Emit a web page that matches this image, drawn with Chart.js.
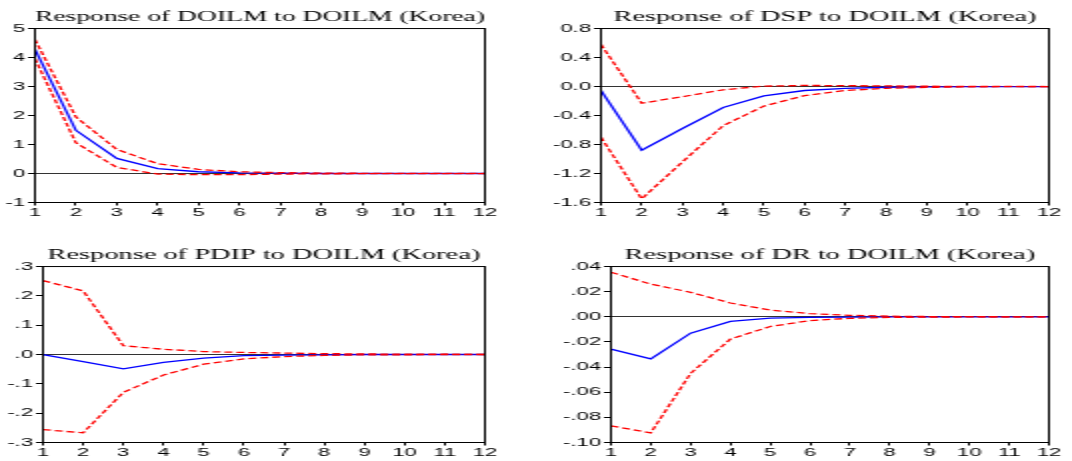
<!DOCTYPE html>
<html>
<head>
<meta charset="utf-8">
<script src="https://cdn.jsdelivr.net/npm/chart.js@4.4.1/dist/chart.umd.min.js"></script>
<style>
  body { margin: 0; background: #fff; }
  #wrap { position: relative; width: 1072px; height: 461px; overflow: hidden; background: #fff; }
  canvas { position: absolute; }
</style>
</head>
<body>
<div id="wrap">
  <canvas id="c1" width="268" height="228" style="left:0px;top:0px;width:536px;height:228px"></canvas>
  <canvas id="c2" width="268" height="228" style="left:536px;top:0px;width:536px;height:228px"></canvas>
  <canvas id="c3" width="268" height="223" style="left:0px;top:238px;width:536px;height:223px"></canvas>
  <canvas id="c4" width="268" height="223" style="left:536px;top:238px;width:536px;height:223px"></canvas>
</div>
<script>
// periods 1..12
const periods = ["1", "2", "3", "4", "5", "6", "7", "8", "9", "10", "11", "12"];

// Response of DOILM to DOILM
const resp1 = [4.28, 1.49, 0.52, 0.17, 0.06, 0.02, 0.01, 0.0, 0.0, 0.0, 0.0, 0.0];
const upper1 = [4.62, 1.95, 0.83, 0.34, 0.14, 0.06, 0.03, 0.015, 0.007, 0.003, 0.002, 0.001];
const lower1 = [3.96, 1.06, 0.21, -0.02, -0.04, -0.04, -0.02, -0.01, -0.006, -0.003, -0.002, -0.001];
const yTicks1 = [-1, 0, 1, 2, 3, 4, 5];
const yLabels1 = ["-1", "0", "1", "2", "3", "4", "5"];

// Response of DSP to DOILM
const resp2 = [-0.055, -0.88, -0.58, -0.29, -0.13, -0.055, -0.025, -0.01, -0.005, -0.002, -0.001, 0];
const upper2 = [0.58, -0.23, -0.14, -0.045, 0.005, 0.015, 0.012, 0.008, 0.004, 0.002, 0.001, 0];
const lower2 = [-0.70, -1.55, -1.04, -0.54, -0.27, -0.125, -0.055, -0.025, -0.012, -0.005, -0.002, -0.001];
const yTicks2 = [-1.6, -1.2, -0.8, -0.4, 0, 0.4, 0.8];
const yLabels2 = ["-1.6", "-1.2", "-0.8", "-0.4", "0.0", "0.4", "0.8"];

// Response of PDIP to DOILM
const resp3 = [0.0, -0.024, -0.049, -0.027, -0.012, -0.004, -0.002, -0.001, 0, 0, 0, 0];
const upper3 = [0.252, 0.217, 0.03, 0.018, 0.01, 0.007, 0.005, 0.003, 0.002, 0.001, 0.001, 0];
const lower3 = [-0.256, -0.267, -0.129, -0.07, -0.033, -0.015, -0.007, -0.003, -0.001, -0.001, 0, 0];
const yTicks3 = [-0.3, -0.2, -0.1, 0, 0.1, 0.2, 0.3];
const yLabels3 = ["-.3", "-.2", "-.1", ".0", ".1", ".2", ".3"];

// Response of DR to DOILM
const resp4 = [-0.0257, -0.0335, -0.013, -0.0037, -0.001, -0.0005, -0.0002, -0.0001, 0, 0, 0, 0];
const upper4 = [0.0355, 0.026, 0.0195, 0.011, 0.0054, 0.0025, 0.0012, 0.0005, 0.0002, 0.0001, 0, 0];
const lower4 = [-0.0867, -0.0923, -0.045, -0.0177, -0.0077, -0.003, -0.0012, -0.0005, -0.0002, -0.0001, 0, 0];
const yTicks4 = [-0.10, -0.08, -0.06, -0.04, -0.02, 0, 0.02, 0.04];
const yLabels4 = ["-.10", "-.08", "-.06", "-.04", "-.02", ".00", ".02", ".04"];

// box round the plot area
const frame = {
  id: "frame",
  afterDraw(chart) {
    const { ctx, chartArea } = chart;
    ctx.save();
    ctx.strokeStyle = "#000";
    ctx.lineWidth = 1;
    ctx.strokeRect(chartArea.left, chartArea.top, chartArea.right - chartArea.left, chartArea.bottom - chartArea.top);
    ctx.restore();
  },
};

const tickFont = { family: "Liberation Sans", size: 11 };

function irfChart(id, title, resp, upper, lower, yTicks, yLabels, box) {
  new Chart(document.getElementById(id), {
    type: "line",
    data: {
      labels: periods,
      datasets: [
        { data: upper, borderColor: "#ff0000", borderDash: [4, 2], borderWidth: 1.3 },
        { data: lower, borderColor: "#ff0000", borderDash: [4, 2], borderWidth: 1.3 },
        { data: resp, borderColor: "#0000ff", borderWidth: 1.3 },
      ],
    },
    options: {
      responsive: false,
      animation: false,
      devicePixelRatio: 1,
      layout: { padding: { left: 0, right: box.right, top: 0, bottom: 0 } },
      elements: { point: { radius: 0 }, line: { tension: 0 } },
      plugins: {
        legend: { display: false },
        tooltip: { enabled: false },
        title: {
          display: true,
          text: title,
          fullSize: false,
          color: "#000",
          font: { family: "Liberation Serif", size: 14.2, weight: "normal" },
          padding: { top: box.titleTop, bottom: 3 },
        },
      },
      scales: {
        x: {
          grid: { drawOnChartArea: false, tickLength: 3, color: "#000", tickColor: "#000" },
          border: { color: "#000", width: 1 },
          ticks: { color: "#000", padding: 1, maxRotation: 0, autoSkip: false, font: tickFont },
          afterFit: (s) => { s.height = box.bottom; },
        },
        y: {
          min: yTicks[0],
          max: yTicks[yTicks.length - 1],
          afterBuildTicks: (s) => { s.ticks = yTicks.map((v) => ({ value: v })); },
          grid: {
            color: (c) => (c.tick && Math.abs(c.tick.value) < 1e-9 ? "#333" : "rgba(0,0,0,0)"),
            tickColor: "#000",
            tickLength: 3.5,
          },
          border: { color: "#000", width: 1 },
          ticks: { color: "#000", padding: 1.5, font: tickFont, callback: (v, i) => yLabels[i] },
          afterFit: (s) => { s.width = box.left; },
        },
      },
    },
    plugins: [frame],
  });
}

irfChart("c1", "Response of DOILM to DOILM (Korea)", resp1, upper1, lower1, yTicks1, yLabels1,
  { left: 17.5, right: 25.5, bottom: 25.5, titleTop: 8.5 });
irfChart("c2", "Response of DSP to DOILM (Korea)", resp2, upper2, lower2, yTicks2, yLabels2,
  { left: 32.5, right: 11.5, bottom: 25.5, titleTop: 8.5 });
irfChart("c3", "Response of PDIP to DOILM (Korea)", resp3, upper3, lower3, yTicks3, yLabels3,
  { left: 21.5, right: 25.5, bottom: 18.5, titleTop: 8.5 });
irfChart("c4", "Response of DR to DOILM (Korea)", resp4, upper4, lower4, yTicks4, yLabels4,
  { left: 37.5, right: 11.5, bottom: 18.5, titleTop: 8.5 });
</script>
</body>
</html>
